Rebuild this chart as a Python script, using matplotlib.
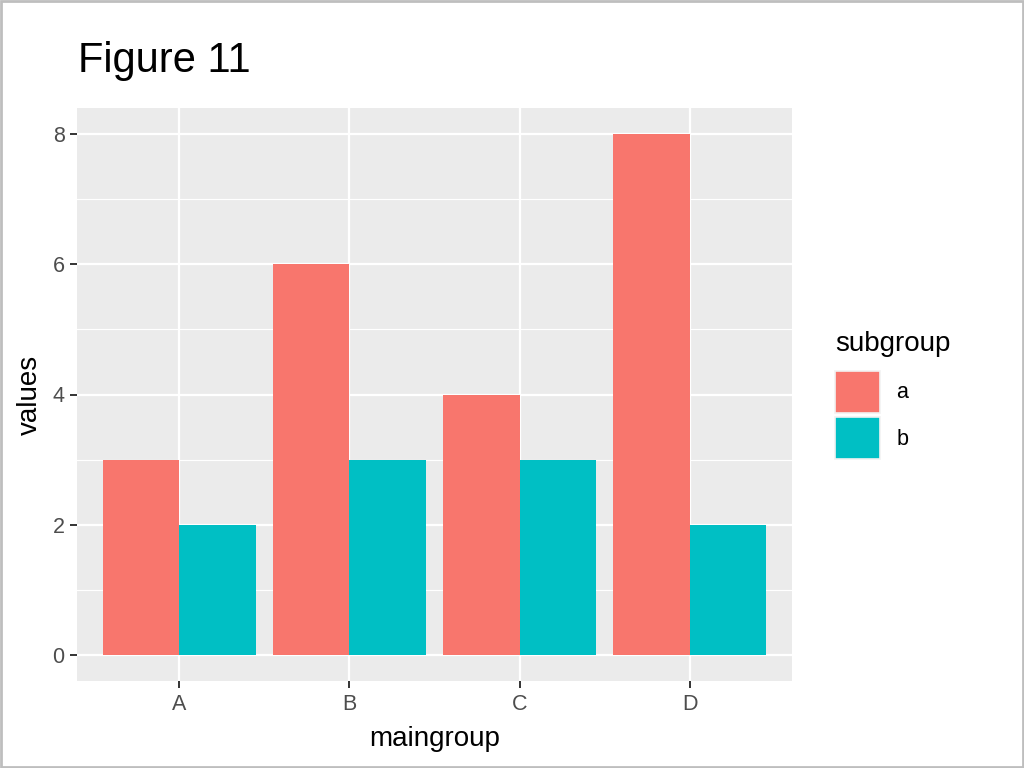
import matplotlib
matplotlib.use("Agg")
import matplotlib.pyplot as plt
from matplotlib.patches import Patch, Rectangle
import numpy as np

maingroup = ["A", "B", "C", "D"]
subgroups = ["a", "b"]
values_a = [3, 6, 4, 8]
values_b = [2, 3, 3, 2]
colors = ["#F8766D", "#00BFC4"]
yticks = [0, 2, 4, 6, 8]
title = "Figure 11"

plt.rcParams["font.family"] = ["Liberation Sans", "DejaVu Sans"]

fig = plt.figure(figsize=(10.24, 7.68), dpi=100)
ax = fig.add_axes([77/1024, 1-681/768, (792-77)/1024, (681-108)/768])
ax.set_facecolor("#EBEBEB")

x = np.arange(1, len(maingroup)+1)
w = 0.45
ax.bar(x - w/2, values_a, width=w, color=colors[0], zorder=3, label=subgroups[0])
ax.bar(x + w/2, values_b, width=w, color=colors[1], zorder=3, label=subgroups[1])

ax.set_xlim(0.4, 4.6)
ax.set_ylim(-0.4, 8.4)
ax.set_xticks(x)
ax.set_xticklabels(maingroup)
ax.set_yticks(yticks)
ax.set_yticks([1, 3, 5, 7], minor=True)
ax.tick_params(axis="both", which="major", length=5, width=1.4, color="#333333",
               labelcolor="#4D4D4D", labelsize=15.5, pad=4)
ax.tick_params(axis="both", which="minor", length=0)
ax.grid(which="major", color="white", linewidth=1.6, zorder=1)
ax.grid(which="minor", axis="y", color="white", linewidth=0.8, zorder=1)
ax.set_axisbelow(True)
for s in ax.spines.values():
    s.set_visible(False)

ax.set_xlabel("maingroup", fontsize=20, color="black", labelpad=8)
ax.set_ylabel("values", fontsize=20, color="black", labelpad=7)

fig.text(78/1024, 1-72/768, title, fontsize=30, color="black", ha="left", va="baseline")

handles = [Patch(facecolor=colors[0], edgecolor="#F2F2F2", linewidth=1.2),
           Patch(facecolor=colors[1], edgecolor="#F2F2F2", linewidth=1.2)]
leg = fig.legend(handles, subgroups, title="subgroup", loc="center left",
                 bbox_to_anchor=(820/1024, 1-395/768), frameon=False,
                 fontsize=15.5, title_fontsize=20, handlelength=2.1, handleheight=2.6,
                 labelspacing=0.22, handletextpad=0.75, borderpad=0.2,
                 alignment="left")
leg._legend_box.sep = 10

fig.patches.append(Rectangle((0.001, 0.001), 0.998, 0.998, transform=fig.transFigure,
                             fill=False, edgecolor="#BEBEBE", linewidth=2))

fig.savefig("out.png", dpi=100)
